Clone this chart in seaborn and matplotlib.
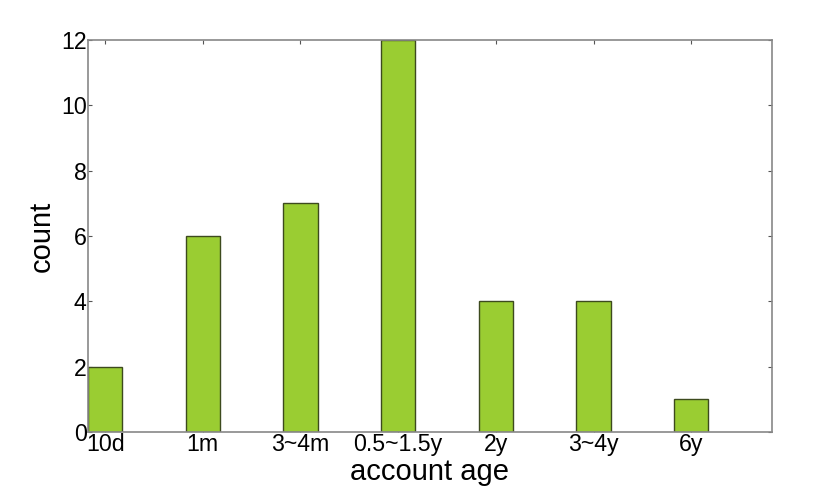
import matplotlib
matplotlib.use("Agg")
import matplotlib.pyplot as plt
import seaborn as sns
import pandas as pd

categories = ["10d", "1m", "3~4m", "0.5~1.5y", "2y", "3~4y", "6y"]
counts = [2, 6, 7, 12, 4, 4, 1]

sns.set_theme(style="white")
plt.rcParams['font.family'] = ['Liberation Sans', 'DejaVu Sans']
plt.rcParams['text.color'] = 'black'
plt.rcParams['axes.labelcolor'] = 'black'
plt.rcParams['xtick.color'] = 'black'
plt.rcParams['ytick.color'] = 'black'

df = pd.DataFrame({"age": categories, "count": counts})

fig = plt.figure(figsize=(8.3, 4.92), dpi=100)
ax = fig.add_axes([0.106, 0.122, 0.824, 0.797])
sns.barplot(data=df, x="age", y="count", order=categories, color="#9acd32",
            saturation=1, width=0.35, edgecolor="#3d4a1e", linewidth=1.0, ax=ax)
ax.set_xlim(-0.175, 6.825)
ax.set_ylim(0, 12)
ax.set_yticks(range(0, 13, 2))
ax.set_xlabel("account age", fontsize=21, labelpad=1)
ax.set_ylabel("count", fontsize=21, labelpad=4)
ax.tick_params(axis="both", labelsize=16.7, direction="in", length=3, width=0.8,
               color="#555555", labelcolor="black", top=True, right=True,
               bottom=True, left=True, pad=1)
for s in ax.spines.values():
    s.set_color("#888888")
    s.set_linewidth(1.2)
fig.savefig("out.png", dpi=100)
